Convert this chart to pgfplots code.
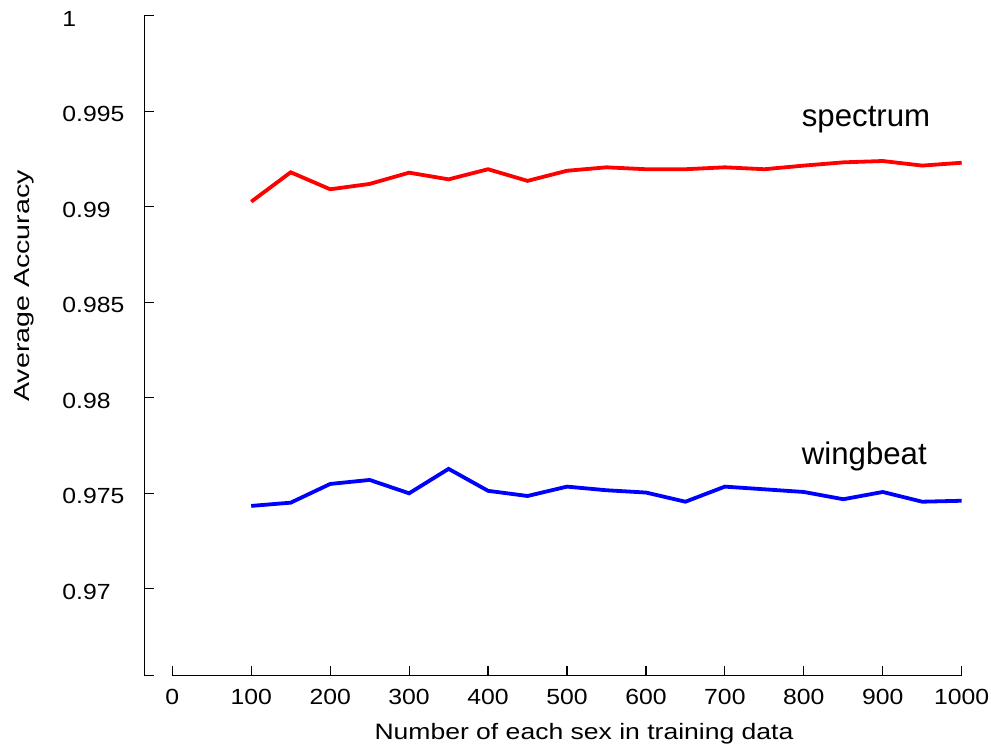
\documentclass[border=0pt]{standalone}
\usepackage{fontspec}
\setmainfont{Liberation Sans}
\newfontfamily\tickfont{Liberation Sans}[FakeStretch=1.13]
\newfontfamily\xlabfont{Liberation Sans}[FakeStretch=1.19]
\newfontfamily\ylabfont{Liberation Sans}[FakeStretch=1.31]
\usepackage{pgfplots}
\usepackage{pgfplotstable}
\pgfplotsset{compat=1.18}

\pgfplotstableread{
x y
100 0.99026
150 0.99180
200 0.99091
250 0.99119
300 0.99178
350 0.99143
400 0.99196
450 0.99135
500 0.99188
550 0.99206
600 0.99196
650 0.99196
700 0.99206
750 0.99196
800 0.99215
850 0.99232
900 0.99239
950 0.99215
1000 0.99230
}\spectrumdata

\pgfplotstableread{
x y
100 0.97433
150 0.97450
200 0.97548
250 0.97569
300 0.97499
350 0.97627
400 0.97512
450 0.97485
500 0.97534
550 0.97515
600 0.97503
650 0.97455
700 0.97534
750 0.97520
800 0.97506
850 0.97468
900 0.97506
950 0.97455
1000 0.97460
}\wingbeatdata

\begin{document}
\begin{tikzpicture}
\begin{axis}[
  name=ax, at={(0,0)}, anchor=south west,
  scale only axis, width=408.6pt, height=330pt,
  xmin=-35.22, xmax=1000, ymin=0.96544, ymax=1,
  axis lines=left,
  axis line style={-, line width=0.6pt, black},
  x axis line style={draw=none},
  tick align=inside, major tick length=5pt,
  tick style={line width=0.6pt, black},
  xtick={0,100,200,300,400,500,600,700,800,900,1000},
  xticklabels={0,100,200,300,400,500,600,700,800,900,1000},
  ytick={0.97,0.975,0.98,0.985,0.99,0.995,1},
  yticklabels={0.97,0.975,0.98,0.985,0.99,0.995,1},
  scaled ticks=false,
  xticklabel style={font=\tickfont\fontsize{10.95}{12}\selectfont, anchor=north, inner sep=0pt, yshift=-6.65pt},
  yticklabel style={font=\tickfont\fontsize{10.95}{12}\selectfont, anchor=west, inner sep=0pt, xshift=-41.25pt, yshift=-1.5pt},
  every axis x label/.style={at={(rel axis cs:0.5378,-0.09742)}, anchor=base, inner sep=0pt, font=\xlabfont\fontsize{11.15}{13}\selectfont},
  every axis y label/.style={at={(rel axis cs:-0.14085,0.5905)}, anchor=base, rotate=90, inner sep=0pt, font=\ylabfont\fontsize{10.9}{13}\selectfont},
  xlabel={Number of each sex in training data},
  ylabel={Average Accuracy},
  clip=false,
]
\addplot[red, line width=1.9pt] table[x=x, y=y] {\spectrumdata};
\addplot[blue, line width=1.9pt] table[x=x, y=y] {\wingbeatdata};
\draw[line width=0.6pt, black] (axis cs:0,0.96544) -- (axis cs:1000,0.96544);
\draw[line width=0.6pt, black] (axis cs:-35.22,0.96544) -- ++(5pt,0pt);
\node[anchor=base west, inner sep=0pt, font=\fontsize{15.6}{17}\selectfont] at (axis cs:797,0.9942) {spectrum};
\node[anchor=base west, inner sep=0pt, font=\fontsize{15.6}{17}\selectfont] at (axis cs:797,0.97648) {wingbeat};
\end{axis}
\pgfresetboundingbox
\path[use as bounding box] (-72.25pt,-35.65pt) rectangle (423.25pt,337.85pt);
\end{tikzpicture}
\end{document}
